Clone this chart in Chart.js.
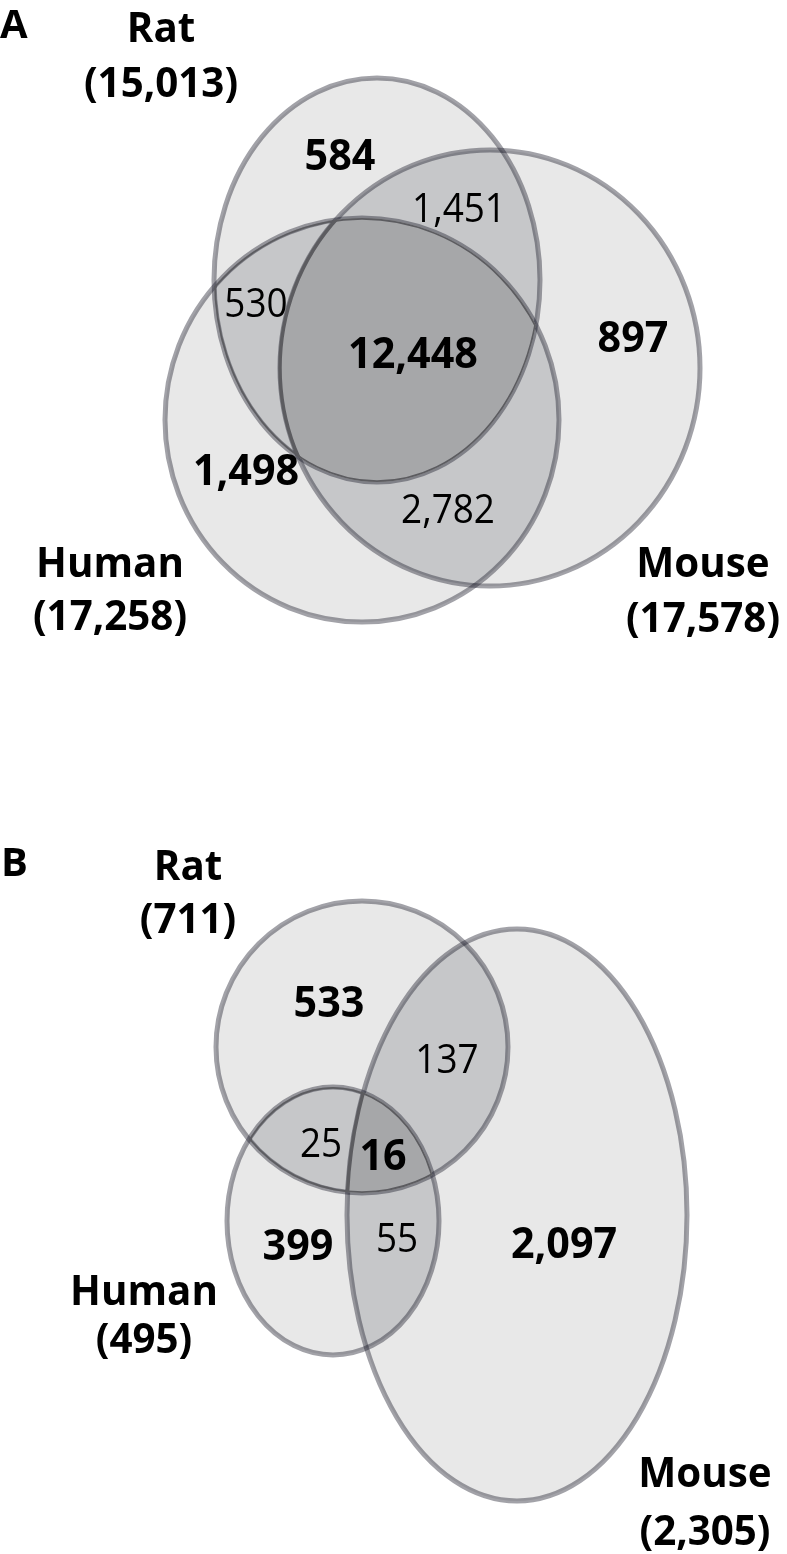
<!DOCTYPE html>
<html>
<head>
<meta charset="utf-8">
<script src="https://cdn.jsdelivr.net/npm/chart.js@4/dist/chart.umd.min.js"></script>
<style>
  html, body { margin: 0; padding: 0; background: #fff; }
  canvas { display: block; }
</style>
</head>
<body>
<canvas id="venn" width="787" height="1554"></canvas>
<script>
// Dados dos dois diagramas (A e B)
const species = ['Rat', 'Human', 'Mouse'];
const totalsA = [15013, 17258, 17578];
const totalsB = [711, 495, 2305];

// Regiões: letras indicam a que espécies pertencem (R = rat, H = human, M = mouse)
const regions = ['R', 'RH', 'RM', 'RHM', 'M', 'H', 'HM'];
const countsA = [584, 530, 1451, 12448, 897, 1498, 2782];
const countsB = [533, 25, 137, 16, 2097, 399, 55];

// Layout (unidades da página): elipses [cx, cy, rx, ry] na ordem Rat, Human, Mouse
const ellipseA = [[377, 280, 163, 202], [362, 420, 197, 202], [490, 368, 210, 218]];
const ellipseB = [[362, 1047, 146, 146], [333, 1221, 106, 134], [517, 1215, 170, 286]];
// posição dos números de cada região [x centro, linha de base]
const regionPosA = [[340, 170], [256, 317], [459, 222], [413, 368], [633, 352], [246, 485], [448, 523]];
const regionPosB = [[329, 1017], [321, 1157], [447, 1073], [383, 1170], [564, 1258], [298, 1260], [397, 1252]];
// rótulos das espécies [x centro, base do nome, base do total]
const speciesPosA = [[161, 42, 97], [110, 577, 630], [703, 577, 632]];
const speciesPosB = [[188, 880, 933], [144, 1305, 1353], [705, 1487, 1545]];
const panelLetters = ['A', 'B'];
const letterPos = [[0, 38], [1, 876]];

const FILL_1 = '#e8e8e8';
const FILL_2 = '#c6c7c9';
const FILL_3 = '#a6a7a9';
const EDGE = 'rgba(15, 15, 30, 0.39)';
const EDGE_INNER = '#5c5c60';
const FONT = '"Open Sans", "DejaVu Sans", sans-serif';

const fmt = n => n.toLocaleString('en-US');

const panels = [
  { ellipses: ellipseA, totals: totalsA, speciesPos: speciesPosA },
  { ellipses: ellipseB, totals: totalsB, speciesPos: speciesPosB }
];

function ellipsePath(ctx, e) {
  ctx.beginPath();
  ctx.ellipse(e.cx, e.cy, e.rx, e.ry, 0, 0, Math.PI * 2);
}

function toPixels(chart, e) {
  const { x, y } = chart.scales;
  const cx = x.getPixelForValue(e[0]);
  const cy = y.getPixelForValue(e[1]);
  return {
    cx, cy,
    rx: Math.abs(x.getPixelForValue(e[0] + e[2]) - cx),
    ry: Math.abs(y.getPixelForValue(e[1] + e[3]) - cy)
  };
}

// texto levemente comprimido na horizontal (parecido com Myriad)
function narrowText(ctx, text, px, py, sx) {
  ctx.save();
  ctx.translate(px, py);
  ctx.scale(sx, 1);
  ctx.fillText(text, 0, 0);
  ctx.restore();
}

const vennPlugin = {
  id: 'venn',
  beforeDatasetsDraw(chart) {
    const ctx = chart.ctx;
    const { x, y } = chart.scales;

    panels.forEach((panel, pi) => {
      const els = panel.ellipses.map(e => toPixels(chart, e));

      // 1. áreas simples
      ctx.save();
      els.forEach(e => { ellipsePath(ctx, e); ctx.fillStyle = FILL_1; ctx.fill(); });

      // 2. interseções duplas
      for (let i = 0; i < 3; i++) {
        for (let j = i + 1; j < 3; j++) {
          ctx.save();
          ellipsePath(ctx, els[i]); ctx.clip();
          ellipsePath(ctx, els[j]); ctx.fillStyle = FILL_2; ctx.fill();
          ctx.restore();
        }
      }

      // 3. contornos
      els.forEach(e => {
        ellipsePath(ctx, e);
        ctx.lineWidth = 5;
        ctx.strokeStyle = EDGE;
        ctx.stroke();
      });

      // 4. interseção tripla (por cima dos contornos, com borda fina escura)
      ctx.save();
      ellipsePath(ctx, els[0]); ctx.clip();
      ellipsePath(ctx, els[1]); ctx.clip();
      ellipsePath(ctx, els[2]); ctx.fillStyle = FILL_3; ctx.fill();
      els.forEach(e => {
        ellipsePath(ctx, e);
        ctx.lineWidth = 3.5;
        ctx.strokeStyle = EDGE_INNER;
        ctx.stroke();
      });
      ctx.restore();

      // rótulos das espécies
      ctx.fillStyle = '#000';
      ctx.textAlign = 'center';
      ctx.textBaseline = 'alphabetic';
      ctx.font = 'bold 42px ' + FONT;
      species.forEach((name, si) => {
        const p = panel.speciesPos[si];
        const px = x.getPixelForValue(p[0]);
        narrowText(ctx, name, px, y.getPixelForValue(p[1]), 0.96);
        narrowText(ctx, '(' + fmt(panel.totals[si]) + ')', px, y.getPixelForValue(p[2]), 0.96);
      });

      // letra do painel
      ctx.textAlign = 'left';
      ctx.font = 'bold 40px ' + FONT;
      ctx.fillText(panelLetters[pi], x.getPixelForValue(letterPos[pi][0]), y.getPixelForValue(letterPos[pi][1]));
      ctx.restore();
    });
  },
  afterDatasetsDraw(chart) {
    const ctx = chart.ctx;
    ctx.save();
    ctx.fillStyle = '#000';
    ctx.textAlign = 'center';
    ctx.textBaseline = 'alphabetic';
    chart.data.datasets.forEach((ds, di) => {
      const meta = chart.getDatasetMeta(di);
      meta.data.forEach((pt, k) => {
        const raw = ds.data[k];
        // regiões exclusivas e tripla em negrito, duplas normais
        const bold = raw.region.length !== 2;
        ctx.font = (bold ? 'bold 43px ' : '41px ') + FONT;
        narrowText(ctx, fmt(raw.count), pt.x, pt.y, bold ? 0.96 : 0.9);
      });
    });
    ctx.restore();
  }
};

function buildData(counts, pos) {
  return counts.map((c, i) => ({ x: pos[i][0], y: pos[i][1], count: c, region: regions[i] }));
}

new Chart(document.getElementById('venn'), {
  type: 'scatter',
  data: {
    datasets: [
      { label: 'A', data: buildData(countsA, regionPosA), pointRadius: 0 },
      { label: 'B', data: buildData(countsB, regionPosB), pointRadius: 0 }
    ]
  },
  options: {
    responsive: false,
    animation: false,
    layout: { padding: 0 },
    scales: {
      x: { type: 'linear', min: 0, max: 787, display: false },
      y: { type: 'linear', min: 0, max: 1554, reverse: true, display: false }
    },
    plugins: {
      legend: { display: false },
      tooltip: { enabled: false }
    }
  },
  plugins: [vennPlugin]
});
</script>
</body>
</html>
